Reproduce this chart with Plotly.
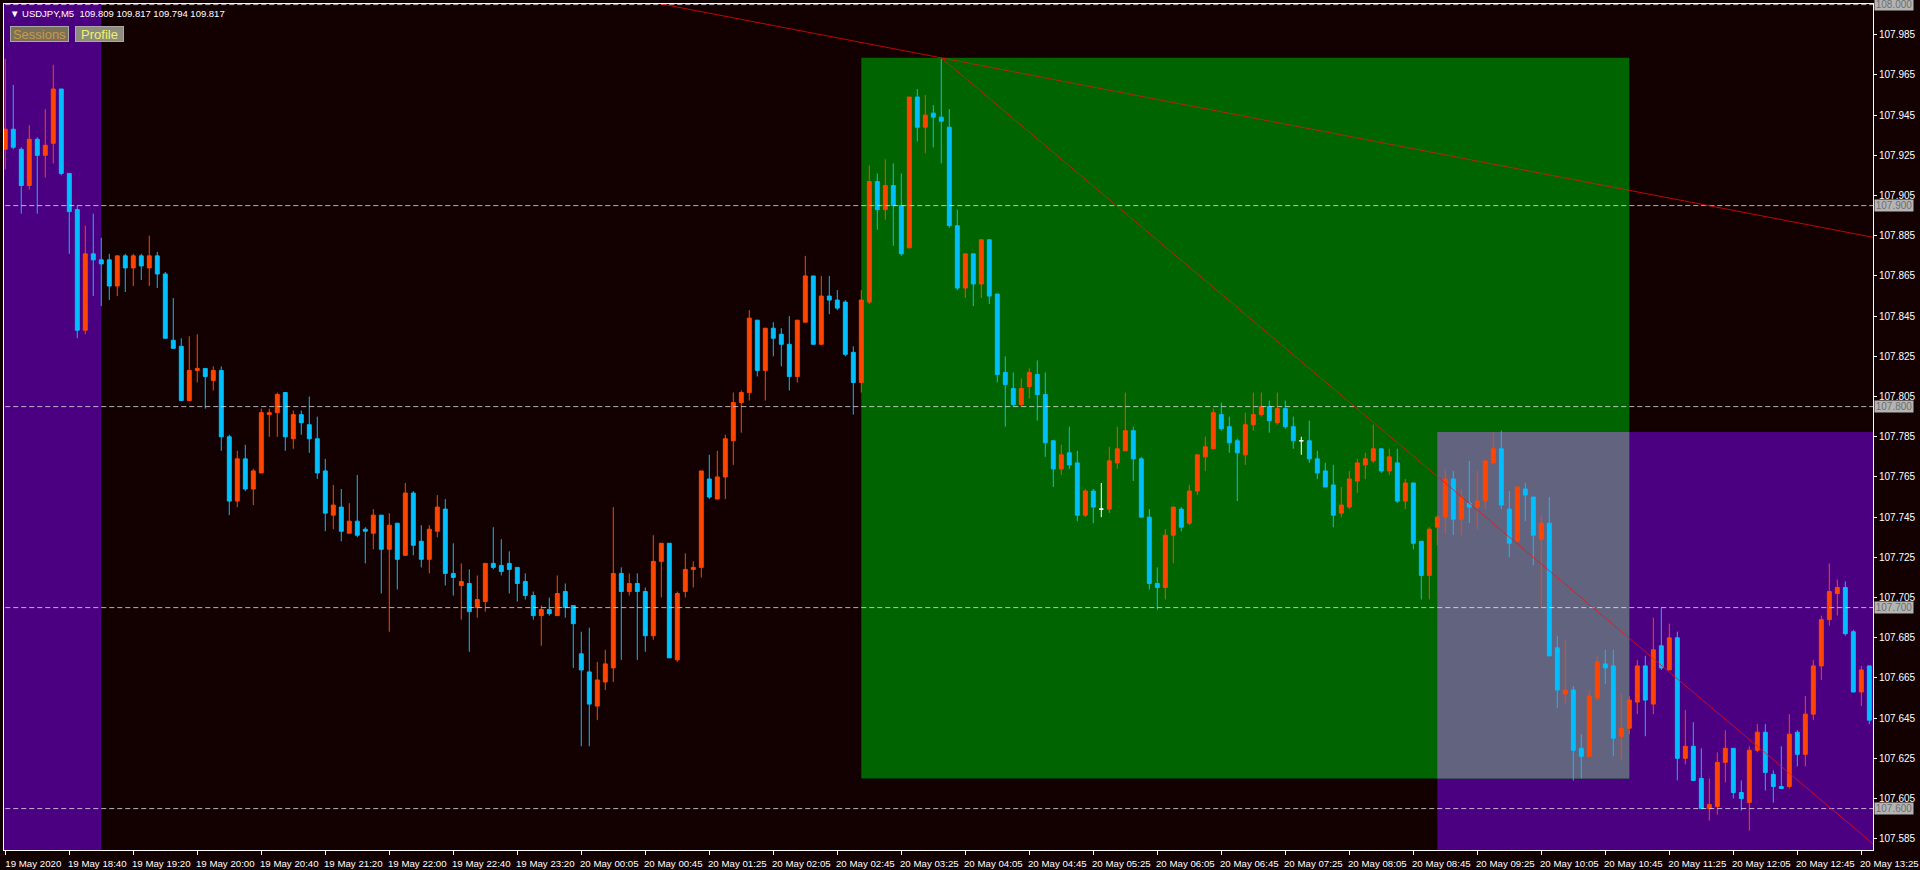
import pandas as pd
import plotly.graph_objects as go

# ---------------- data ----------------
bar_times = [t.strftime("%d %b %H:%M").lstrip("0") for t in
             pd.date_range("2020-05-19 18:00", "2020-05-20 13:30", freq="5min")
             if not (t.hour == 0 and t.minute == 0)]

opens = [107.928, 107.938, 107.928, 107.910, 107.933, 107.925, 107.931, 107.958, 107.916, 107.898,
         107.838, 107.876, 107.873, 107.873, 107.860, 107.875, 107.869, 107.875, 107.869, 107.875,
         107.866, 107.833, 107.830, 107.803, 107.818, 107.819, 107.813, 107.818, 107.785, 107.753,
         107.774, 107.759, 107.767, 107.796, 107.797, 107.807, 107.784, 107.796, 107.791, 107.784,
         107.768, 107.746, 107.750, 107.737, 107.743, 107.739, 107.737, 107.746, 107.729, 107.742,
         107.726, 107.757, 107.733, 107.724, 107.738, 107.749, 107.717, 107.711, 107.712, 107.700,
         107.703, 107.722, 107.721, 107.722, 107.720, 107.713, 107.706, 107.696, 107.699, 107.696,
         107.708, 107.701, 107.677, 107.668, 107.651, 107.663, 107.670, 107.717, 107.708, 107.712,
         107.708, 107.686, 107.723, 107.732, 107.674, 107.708, 107.719, 107.720, 107.764, 107.754,
         107.765, 107.783, 107.802, 107.807, 107.843, 107.818, 107.839, 107.836, 107.831, 107.815,
         107.842, 107.865, 107.831, 107.855, 107.853, 107.852, 107.827, 107.812, 107.852, 107.912,
         107.898, 107.910, 107.900, 107.879, 107.954, 107.939, 107.946, 107.944, 107.939, 107.890,
         107.859, 107.876, 107.861, 107.883, 107.856, 107.817, 107.809, 107.801, 107.810, 107.816,
         107.806, 107.783, 107.769, 107.777, 107.772, 107.746, 107.758, 107.749, 107.749, 107.772,
         107.778, 107.788, 107.774, 107.745, 107.712, 107.710, 107.736, 107.749, 107.742, 107.758,
         107.775, 107.779, 107.796, 107.790, 107.783, 107.776, 107.791, 107.796, 107.800, 107.792,
         107.799, 107.790, 107.783, 107.783, 107.774, 107.768, 107.761, 107.747, 107.750, 107.763,
         107.771, 107.773, 107.779, 107.768, 107.772, 107.753, 107.762, 107.733, 107.716, 107.740,
         107.745, 107.764, 107.744, 107.752, 107.750, 107.753, 107.772, 107.779, 107.749, 107.733,
         107.759, 107.755, 107.734, 107.742, 107.680, 107.657, 107.659, 107.630, 107.626, 107.655,
         107.672, 107.671, 107.636, 107.640, 107.653, 107.671, 107.652, 107.681, 107.669, 107.685,
         107.625, 107.631, 107.615, 107.600, 107.601, 107.623, 107.630, 107.608, 107.603, 107.629,
         107.638, 107.617, 107.611, 107.611, 107.638, 107.627, 107.647, 107.671, 107.694, 107.707,
         107.710, 107.688, 107.658, 107.671]
highs = [107.973, 107.960, 107.929, 107.940, 107.934, 107.948, 107.970, 107.958, 107.916, 107.900,
         107.890, 107.896, 107.884, 107.876, 107.875, 107.876, 107.876, 107.876, 107.885, 107.877,
         107.867, 107.854, 107.834, 107.835, 107.836, 107.819, 107.820, 107.820, 107.786, 107.778,
         107.781, 107.769, 107.799, 107.799, 107.807, 107.807, 107.798, 107.798, 107.805, 107.795,
         107.774, 107.761, 107.759, 107.752, 107.766, 107.740, 107.749, 107.746, 107.747, 107.742,
         107.762, 107.758, 107.741, 107.741, 107.756, 107.754, 107.732, 107.722, 107.719, 107.716,
         107.722, 107.740, 107.734, 107.728, 107.720, 107.717, 107.708, 107.701, 107.705, 107.716,
         107.712, 107.701, 107.688, 107.690, 107.673, 107.679, 107.750, 107.720, 107.717, 107.717,
         107.710, 107.736, 107.732, 107.732, 107.708, 107.727, 107.723, 107.768, 107.776, 107.778,
         107.786, 107.807, 107.808, 107.848, 107.843, 107.839, 107.842, 107.839, 107.845, 107.843,
         107.875, 107.865, 107.865, 107.865, 107.858, 107.853, 107.830, 107.858, 107.920, 107.916,
         107.923, 107.921, 107.916, 107.954, 107.958, 107.955, 107.950, 107.973, 107.948, 107.898,
         107.876, 107.876, 107.883, 107.883, 107.856, 107.825, 107.817, 107.814, 107.819, 107.823,
         107.817, 107.783, 107.781, 107.790, 107.778, 107.759, 107.759, 107.762, 107.780, 107.790,
         107.807, 107.790, 107.775, 107.749, 107.720, 107.739, 107.750, 107.750, 107.761, 107.776,
         107.785, 107.799, 107.802, 107.795, 107.784, 107.797, 107.807, 107.807, 107.803, 107.807,
         107.803, 107.795, 107.785, 107.793, 107.778, 107.772, 107.771, 107.760, 107.768, 107.774,
         107.777, 107.791, 107.779, 107.779, 107.779, 107.764, 107.762, 107.733, 107.740, 107.746,
         107.769, 107.768, 107.759, 107.773, 107.768, 107.773, 107.787, 107.788, 107.758, 107.760,
         107.762, 107.755, 107.746, 107.755, 107.686, 107.684, 107.661, 107.637, 107.659, 107.676,
         107.679, 107.679, 107.657, 107.656, 107.674, 107.676, 107.695, 107.700, 107.692, 107.688,
         107.649, 107.643, 107.630, 107.615, 107.628, 107.639, 107.630, 107.614, 107.631, 107.642,
         107.642, 107.619, 107.631, 107.647, 107.639, 107.656, 107.674, 107.696, 107.722, 107.714,
         107.713, 107.689, 107.671, 107.671]
lows = [107.918, 107.928, 107.896, 107.908, 107.896, 107.914, 107.921, 107.915, 107.876, 107.834,
        107.836, 107.855, 107.850, 107.853, 107.855, 107.857, 107.860, 107.863, 107.860, 107.859,
        107.834, 107.829, 107.803, 107.803, 107.812, 107.799, 107.808, 107.778, 107.746, 107.750,
        107.758, 107.751, 107.767, 107.785, 107.785, 107.778, 107.779, 107.786, 107.777, 107.764,
        107.738, 107.739, 107.733, 107.737, 107.735, 107.722, 107.729, 107.707, 107.688, 107.709,
        107.726, 107.726, 107.720, 107.717, 107.735, 107.711, 107.706, 107.694, 107.678, 107.695,
        107.698, 107.719, 107.716, 107.707, 107.703, 107.704, 107.694, 107.681, 107.696, 107.696,
        107.695, 107.670, 107.631, 107.631, 107.644, 107.659, 107.663, 107.674, 107.706, 107.674,
        107.678, 107.684, 107.705, 107.675, 107.673, 107.705, 107.710, 107.715, 107.754, 107.754,
        107.754, 107.771, 107.787, 107.803, 107.815, 107.803, 107.825, 107.820, 107.808, 107.812,
        107.842, 107.831, 107.831, 107.846, 107.848, 107.825, 107.796, 107.807, 107.851, 107.888,
        107.893, 107.880, 107.875, 107.879, 107.932, 107.926, 107.929, 107.921, 107.889, 107.858,
        107.854, 107.850, 107.854, 107.851, 107.812, 107.790, 107.800, 107.800, 107.804, 107.793,
        107.775, 107.760, 107.766, 107.769, 107.743, 107.745, 107.742, 107.745, 107.747, 107.769,
        107.778, 107.763, 107.745, 107.709, 107.699, 107.704, 107.722, 107.738, 107.741, 107.756,
        107.768, 107.779, 107.788, 107.777, 107.753, 107.771, 107.788, 107.795, 107.787, 107.791,
        107.789, 107.779, 107.776, 107.772, 107.764, 107.760, 107.740, 107.745, 107.749, 107.757,
        107.764, 107.772, 107.767, 107.766, 107.752, 107.749, 107.729, 107.704, 107.704, 107.731,
        107.737, 107.736, 107.736, 107.742, 107.739, 107.749, 107.772, 107.749, 107.725, 107.733,
        107.743, 107.721, 107.700, 107.676, 107.650, 107.652, 107.614, 107.615, 107.626, 107.654,
        107.662, 107.626, 107.624, 107.637, 107.647, 107.636, 107.647, 107.669, 107.669, 107.614,
        107.622, 107.614, 107.600, 107.594, 107.597, 107.613, 107.605, 107.599, 107.589, 107.628,
        107.609, 107.603, 107.610, 107.610, 107.621, 107.621, 107.644, 107.664, 107.691, 107.696,
        107.686, 107.658, 107.651, 107.642]
closes = [107.938, 107.929, 107.910, 107.933, 107.925, 107.930, 107.958, 107.916, 107.897, 107.838,
          107.876, 107.873, 107.871, 107.860, 107.875, 107.869, 107.875, 107.870, 107.875, 107.866,
          107.834, 107.829, 107.803, 107.818, 107.819, 107.815, 107.818, 107.785, 107.753, 107.774,
          107.759, 107.768, 107.797, 107.797, 107.806, 107.785, 107.796, 107.792, 107.784, 107.767,
          107.747, 107.751, 107.738, 107.743, 107.736, 107.738, 107.746, 107.729, 107.741, 107.724,
          107.757, 107.731, 107.724, 107.739, 107.750, 107.717, 107.715, 107.713, 107.698, 107.704,
          107.722, 107.720, 107.718, 107.719, 107.712, 107.706, 107.696, 107.699, 107.697, 107.707,
          107.700, 107.692, 107.669, 107.652, 107.664, 107.672, 107.717, 107.708, 107.712, 107.708,
          107.686, 107.723, 107.732, 107.675, 107.707, 107.719, 107.720, 107.768, 107.755, 107.765,
          107.784, 107.802, 107.807, 107.844, 107.818, 107.839, 107.834, 107.831, 107.815, 107.843,
          107.865, 107.831, 107.855, 107.853, 107.849, 107.826, 107.812, 107.853, 107.912, 107.898,
          107.910, 107.900, 107.876, 107.954, 107.939, 107.945, 107.944, 107.942, 107.890, 107.859,
          107.876, 107.861, 107.883, 107.855, 107.816, 107.811, 107.801, 107.809, 107.817, 107.806,
          107.782, 107.769, 107.776, 107.771, 107.746, 107.758, 107.750, 107.749, 107.773, 107.779,
          107.788, 107.774, 107.745, 107.712, 107.710, 107.736, 107.750, 107.740, 107.758, 107.776,
          107.780, 107.797, 107.789, 107.782, 107.777, 107.791, 107.796, 107.800, 107.793, 107.799,
          107.790, 107.783, 107.783, 107.774, 107.767, 107.760, 107.746, 107.751, 107.764, 107.772,
          107.774, 107.779, 107.768, 107.775, 107.753, 107.762, 107.732, 107.716, 107.739, 107.745,
          107.764, 107.744, 107.755, 107.750, 107.753, 107.773, 107.779, 107.751, 107.732, 107.760,
          107.756, 107.736, 107.742, 107.676, 107.659, 107.659, 107.629, 107.626, 107.656, 107.673,
          107.670, 107.635, 107.640, 107.654, 107.671, 107.654, 107.679, 107.670, 107.685, 107.625,
          107.631, 107.614, 107.600, 107.602, 107.623, 107.630, 107.608, 107.605, 107.629, 107.638,
          107.618, 107.611, 107.610, 107.637, 107.627, 107.647, 107.671, 107.694, 107.708, 107.710,
          107.687, 107.658, 107.669, 107.644]

tick_labels = ["19 May 2020", "19 May 18:40", "19 May 19:20", "19 May 20:00", "19 May 20:40",
               "19 May 21:20", "19 May 22:00", "19 May 22:40", "19 May 23:20", "20 May 00:05",
               "20 May 00:45", "20 May 01:25", "20 May 02:05", "20 May 02:45", "20 May 03:25",
               "20 May 04:05", "20 May 04:45", "20 May 05:25", "20 May 06:05", "20 May 06:45",
               "20 May 07:25", "20 May 08:05", "20 May 08:45", "20 May 09:25", "20 May 10:05",
               "20 May 10:45", "20 May 11:25", "20 May 12:05", "20 May 12:45", "20 May 13:25"]
price_ticks = [107.585, 107.605, 107.625, 107.645, 107.665, 107.685, 107.705, 107.725, 107.745,
               107.765, 107.785, 107.805, 107.825, 107.845, 107.865, 107.885, 107.905, 107.925,
               107.945, 107.965, 107.985]
hline_levels = [107.600, 107.700, 107.800, 107.900, 108.000]

# drawn objects (anchors: bar time, price)
trend_lines = [
    [("20 May 03:50", 107.9735), ("20 May 13:30", 107.8846)],
    [("20 May 03:50", 107.9735), ("20 May 13:30", 107.5840)],
]
green_box = ("20 May 03:00", "20 May 11:00", 107.6150, 107.9735)
session_boxes = [(None, "19 May 19:00", 107.50, 108.10), ("20 May 09:00", None, 107.50, 107.7874)]
overlap_box = ("20 May 09:00", "20 May 11:00", 107.6150, 107.7874)

header_text = "\u25BC USDJPY,M5\u00a0\u00a0109.809 109.817 109.794 109.817"

# ---------------- styling ----------------
BG = "#130000"
PURPLE = "#4B0082"
GREEN = "#006400"
OVERLAP = "#62647F"
UP = "#FF4500"
DOWN = "#00BFFF"
FONT = "Liberation Sans"

N = len(bar_times)
xs = list(range(N))
pos = {t: i for i, t in enumerate(bar_times)}


def bx(t, default):
    return pos[t] if t is not None else default


fig = go.Figure()

shapes = []
for t0, t1, y0, y1 in session_boxes:
    shapes.append(dict(type="rect", xref="x", yref="y", x0=bx(t0, -5), x1=bx(t1, N + 5),
                       y0=y0, y1=y1, fillcolor=PURPLE, line_width=0, layer="below"))
shapes.append(dict(type="rect", xref="x", yref="y", x0=pos[green_box[0]], x1=pos[green_box[1]],
                   y0=green_box[2], y1=green_box[3], fillcolor=GREEN, line_width=0, layer="below"))
shapes.append(dict(type="rect", xref="x", yref="y", x0=pos[overlap_box[0]], x1=pos[overlap_box[1]],
                   y0=overlap_box[2], y1=overlap_box[3], fillcolor=OVERLAP, line_width=0, layer="below"))

# dashed horizontal price lines
for lv in hline_levels:
    fig.add_trace(go.Scatter(x=[-5, N + 5], y=[lv, lv], mode="lines",
                             line=dict(color="rgba(235,235,245,0.75)", width=1, dash="5px,3px"),
                             hoverinfo="skip", showlegend=False))

doji = [o == c for o, c in zip(opens, closes)]
sel = lambda arr, flag: [v for v, d in zip(arr, doji) if d == flag]

fig.add_trace(go.Candlestick(
    x=sel(xs, False), open=sel(opens, False), high=sel(highs, False),
    low=sel(lows, False), close=sel(closes, False),
    increasing=dict(line=dict(color=UP, width=1), fillcolor=UP),
    decreasing=dict(line=dict(color=DOWN, width=1), fillcolor=DOWN),
    whiskerwidth=0, hoverinfo="skip", showlegend=False))
fig.add_trace(go.Candlestick(
    x=sel(xs, True), open=sel(opens, True), high=sel(highs, True),
    low=sel(lows, True), close=sel(closes, True),
    increasing=dict(line=dict(color="white", width=1), fillcolor="white"),
    decreasing=dict(line=dict(color="white", width=1), fillcolor="white"),
    whiskerwidth=0, hoverinfo="skip", showlegend=False))

# trend lines (extended as rays across the view)
for (ta, pa), (tb, pb) in trend_lines:
    xa, xb = pos[ta], pos[tb]
    slope = (pb - pa) / (xb - xa)
    x_start = xa if abs(slope) > 0.002 else -5
    x_end = N + 5
    fig.add_trace(go.Scatter(x=[x_start, x_end],
                             y=[pa + slope * (x_start - xa), pa + slope * (x_end - xa)],
                             mode="lines", line=dict(color="rgba(255,10,10,0.72)", width=1),
                             hoverinfo="skip", showlegend=False))

annotations = []
# boxed price labels for horizontal lines
for lv in hline_levels:
    annotations.append(dict(x=1, xref="paper", y=lv, yref="y", xanchor="left", yanchor="middle",
                            xshift=1, text=f"{lv:.3f}", showarrow=False,
                            font=dict(family=FONT, size=10, color="#6E6E6E"),
                            bgcolor="#B4B4B4", borderpad=0, width=38, height=11, align="center"))
annotations.append(dict(x=0, xref="paper", y=1, yref="paper", xanchor="left", yanchor="middle",
                        xshift=4, yshift=-9, text=header_text, showarrow=False,
                        font=dict(family=FONT, size=9.5, color="white")))
annotations.append(dict(x=0, xref="paper", y=1, yref="paper", xanchor="left", yanchor="middle",
                        xshift=6, yshift=-29.7, text="Sessions", showarrow=False,
                        font=dict(family=FONT, size=13, color="#C89A48"),
                        bgcolor="#7A7158", bordercolor="#A8A8A8", borderwidth=1,
                        width=57, height=14, borderpad=0))
annotations.append(dict(x=0, xref="paper", y=1, yref="paper", xanchor="left", yanchor="middle",
                        xshift=71, yshift=-29.7, text="Profile", showarrow=False,
                        font=dict(family=FONT, size=13, color="#F0F070"),
                        bgcolor="#8E8C7C", bordercolor="#A8A8A8", borderwidth=1,
                        width=47, height=14, borderpad=0))

tick_pos = [0] + [pos[l] for l in tick_labels[1:]]

fig.update_layout(
    width=1920, height=870,
    margin=dict(l=4, r=47, t=4, b=20, autoexpand=False),
    paper_bgcolor=BG, plot_bgcolor=BG,
    shapes=shapes, annotations=annotations,
    showlegend=False,
    hovermode=False,
    xaxis=dict(range=[-0.16, 233.46], showgrid=False, zeroline=False, automargin=False,
               showline=True, linecolor="white", linewidth=1, mirror=True,
               ticks="outside", ticklen=4, tickcolor="white", tickwidth=1,
               tickvals=tick_pos, ticktext=tick_labels, ticklabelshift=28,
               ticklabeloverflow="allow",
               tickfont=dict(family=FONT, size=9.7, color="white"),
               rangeslider=dict(visible=False), fixedrange=True),
    yaxis=dict(side="right", range=[107.5794, 108.0003], showgrid=False, zeroline=False,
               automargin=False,
               showline=True, linecolor="white", linewidth=1, mirror=True,
               ticks="outside", ticklen=3, tickcolor="white",
               tickvals=price_ticks, ticktext=[f"{p:.3f}" for p in price_ticks],
               tickfont=dict(family=FONT, size=10, color="white"), fixedrange=True),
)

fig.write_html("out.html", config={"displayModeBar": False},
               post_script="document.body.style.margin='0';document.body.style.overflow='hidden';"
                           "document.body.style.background='" + BG + "';")
